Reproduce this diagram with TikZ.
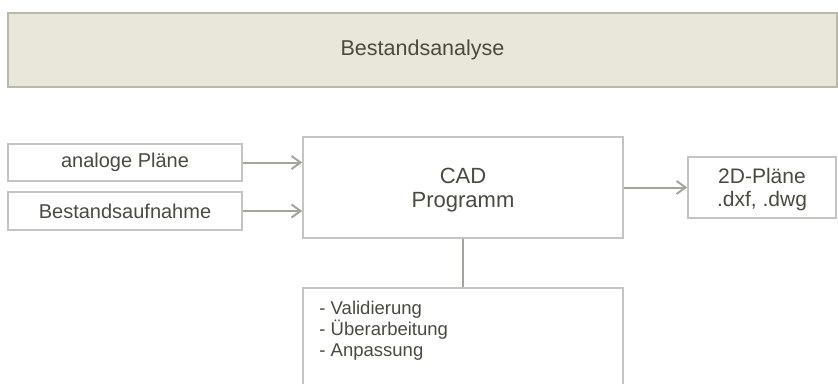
\documentclass[tikz,border=0pt]{standalone}
\usepackage{fontspec}
\setmainfont{Liberation Sans}
\usetikzlibrary{arrows.meta}
\definecolor{bannerfill}{HTML}{E9E6DA}
\definecolor{bannerline}{HTML}{B9B8AA}
\definecolor{boxline}{HTML}{C4C4C2}
\definecolor{arrowline}{HTML}{A4A49C}
\definecolor{txt}{HTML}{4A4A40}
\tikzset{
  every node/.style={text=txt},
  box/.style={draw=boxline, line width=1.5pt, fill=white, inner sep=0pt,
    font=\fontsize{20}{24}\selectfont, align=center},
  cadbox/.style={box, font=\fontsize{22}{24.5}\selectfont},
  outbox/.style={box, font=\fontsize{21}{23}\selectfont},
  banner/.style={draw=bannerline, line width=2pt, fill=bannerfill, inner sep=0pt,
    font=\fontsize{21.5}{25}\selectfont},
  flow/.style={draw=arrowline, line width=2pt,
    -{Straight Barb[length=9pt,width=13pt,line width=2pt]}},
  link/.style={draw=arrowline, line width=1.5pt}
}
\begin{document}
\begin{tikzpicture}[x=1pt,y=-1pt]
\useasboundingbox (0,0) rectangle (838,383);
\node[banner, minimum width=829pt, minimum height=74pt] (banner) at (422.5,50) {Bestandsanalyse};
\node[box, minimum width=234pt, minimum height=37pt] (plans) at (125,162.5) {analoge Pläne};
\node[box, minimum width=234pt, minimum height=38pt] (survey) at (125,211) {Bestandsaufnahme};
\node[cadbox, minimum width=320pt, minimum height=101pt] (cad) at (463,187.5) {\rule{0pt}{21pt}CAD\\Programm};
\node[outbox, minimum width=148pt, minimum height=61pt] (out) at (762,187.5) {\rule{0pt}{19pt}2D-Pläne\\.dxf, .dwg};
\node[box, minimum width=320pt, minimum height=112pt,
  label={[anchor=north west, inner sep=0pt, align=left, text=txt, yshift=-13.5pt,
    font=\fontsize{18.5}{21}\selectfont]north west:{\hspace*{17pt}- Validierung\\\hspace*{17pt}- Überarbeitung\\\hspace*{17pt}- Anpassung}},
  label distance=0pt] (tasks) at (463,344) {};
\draw[flow] (plans.east) -- (plans.east -| cad.west);
\draw[flow] (survey.east) -- (survey.east -| cad.west);
\draw[flow] (cad.east) -- (out.west);
\draw[link] (cad.south) -- (tasks.north);
\end{tikzpicture}
\end{document}
